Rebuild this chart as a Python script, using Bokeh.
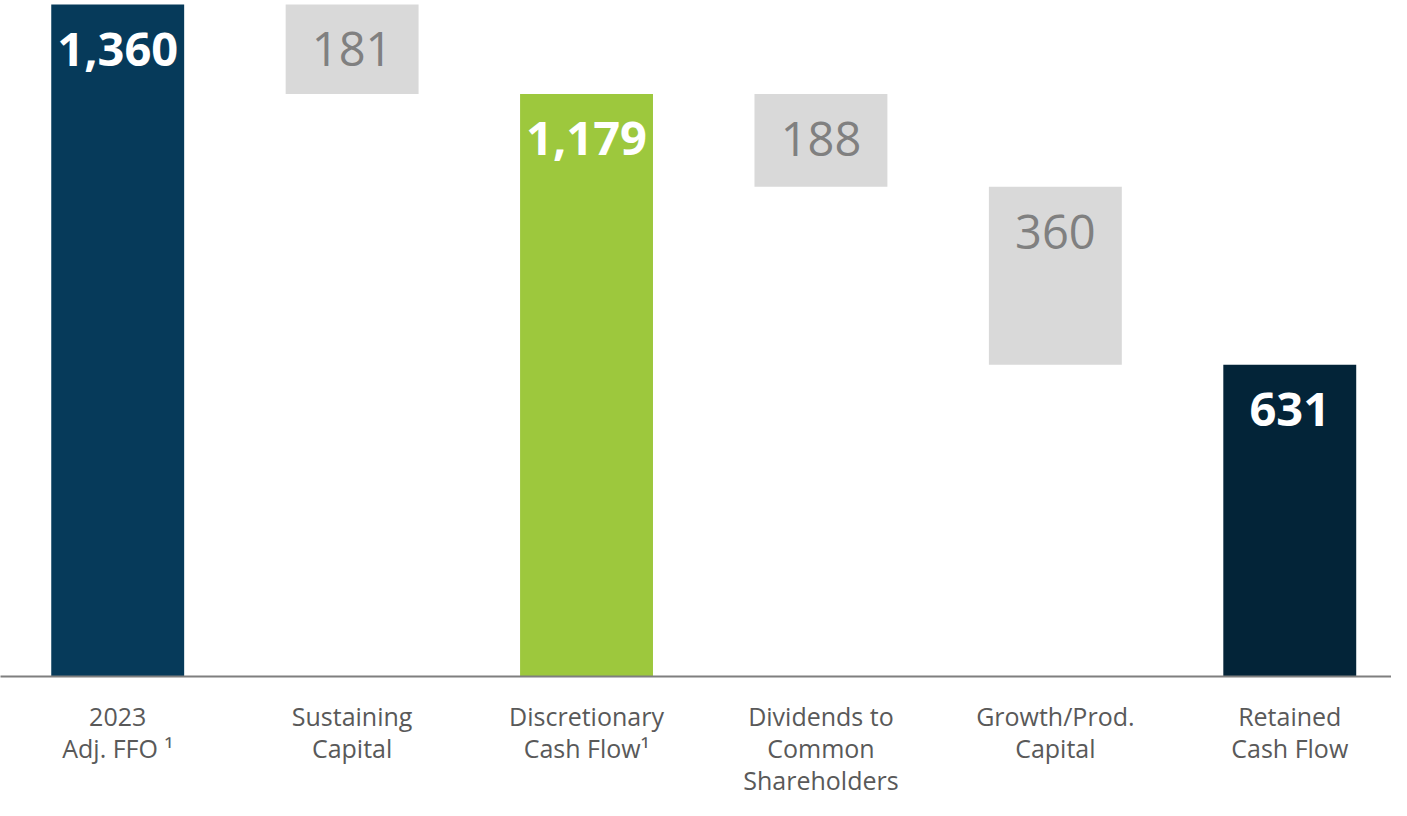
from bokeh.plotting import figure
from bokeh.models import ColumnDataSource, Range1d, FixedTicker
from bokeh.core.properties import value
from bokeh.embed import file_html
from bokeh.resources import INLINE

categories = ["2023\nAdj. FFO \u00b9", "Sustaining\nCapital", "Discretionary\nCash Flow\u00b9",
              "Dividends to\nCommon\nShareholders", "Growth/Prod.\nCapital", "Retained\nCash Flow"]
values = [1360, -181, 1179, -188, -360, 631]
kinds = ["total", "delta", "total", "delta", "delta", "total"]
labels = ["1,360", "181", "1,179", "188", "360", "631"]
bar_colors = ["#063A5A", "#D9D9D9", "#9DC83D", "#D9D9D9", "#D9D9D9", "#032438"]
label_colors = ["#FFFFFF", "#808080", "#FFFFFF", "#808080", "#808080", "#FFFFFF"]
label_styles = ["bold", "normal", "bold", "normal", "normal", "bold"]

xs = [i + 0.5 for i in range(len(categories))]
tops, bottoms = [], []
running = 0
for v, k in zip(values, kinds):
    if k == "total":
        running = v
        tops.append(v)
        bottoms.append(0)
    else:
        tops.append(running)
        running = running + v
        bottoms.append(running)

src = ColumnDataSource(dict(x=xs, top=tops, bottom=bottoms, color=bar_colors,
                            label=labels, lcolor=label_colors, lstyle=label_styles))

p = figure(width=1391, height=800, x_range=Range1d(0, 5.934), y_range=Range1d(0, 1368),
           output_backend="svg", toolbar_location=None, min_border=0,
           min_border_left=0, min_border_right=0, min_border_top=0, min_border_bottom=0)
p.outline_line_color = None
p.xgrid.visible = False
p.ygrid.visible = False
p.yaxis.visible = False
p.background_fill_color = "white"

p.vbar(x="x", top="top", bottom="bottom", width=0.567, color="color", source=src, line_color=None)
p.text(x="x", y="top", text="label", text_color="lcolor", text_font_style="lstyle",
       text_font=value("Open Sans"), text_font_size="47px", text_align="center",
       text_baseline="middle", y_offset=45, source=src)

ax = p.xaxis[0]
ax.ticker = FixedTicker(ticks=xs)
ax.major_label_overrides = {x: c for x, c in zip(xs, categories)}
ax.axis_line_color = "#7F7F7F"
ax.axis_line_width = 2
ax.major_tick_line_color = None
ax.minor_tick_line_color = None
ax.major_label_text_font = "Open Sans"
ax.major_label_text_font_size = "25px"
ax.major_label_text_color = "#595959"
ax.major_label_standoff = 16
ax.major_label_text_line_height = 0.95

open("out.html", "w").write(file_html(p, INLINE))
